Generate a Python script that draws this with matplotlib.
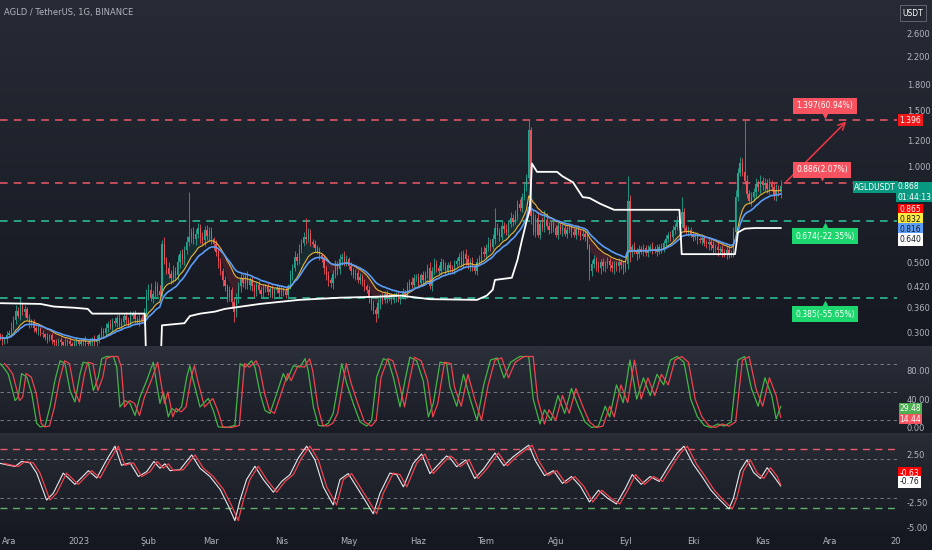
import numpy as np
import pandas as pd
import matplotlib
matplotlib.use("Agg")
import matplotlib.pyplot as plt
from matplotlib.colors import LinearSegmentedColormap
from matplotlib.ticker import FuncFormatter, NullLocator, NullFormatter

plt.rcParams['font.family'] = ['Liberation Sans Narrow', 'DejaVu Sans']

# ---------- data (day 0 = 1 Ara 2022, one candle per day) ----------
FIRST_DAY = -4
FIRST_OPEN = 0.295

closes = [
    0.290, 0.283, 0.288, 0.295,
    0.300, 0.312, 0.330, 0.352, 0.340, 0.365, 0.348, 0.356, 0.335, 0.320,
    0.325, 0.312, 0.305, 0.310, 0.300, 0.298, 0.292, 0.288, 0.295, 0.285,
    0.282, 0.279, 0.286, 0.281, 0.276, 0.280, 0.284, 0.278, 0.274, 0.279,
    0.283, 0.277, 0.281, 0.286, 0.280, 0.278, 0.284, 0.289, 0.282, 0.287,
    0.295, 0.305, 0.300, 0.312, 0.320, 0.314, 0.328, 0.322, 0.335, 0.318,
    0.325, 0.340, 0.330, 0.322, 0.338, 0.345, 0.332, 0.326, 0.335, 0.328,
    0.345, 0.392, 0.410, 0.385, 0.398, 0.420, 0.405, 0.395, 0.570, 0.505,
    0.480, 0.460, 0.445, 0.470, 0.455, 0.500, 0.530, 0.510, 0.545, 0.580,
    0.600, 0.620, 0.590, 0.615, 0.640, 0.600, 0.585, 0.630, 0.605, 0.625,
    0.590, 0.570, 0.540, 0.500, 0.470, 0.440, 0.420, 0.390, 0.410, 0.375,
    0.350, 0.385, 0.420, 0.445, 0.430, 0.455, 0.425, 0.440, 0.420, 0.405,
    0.425, 0.410, 0.398, 0.415, 0.420, 0.402, 0.412, 0.395, 0.408, 0.415,
    0.400, 0.410, 0.405, 0.395, 0.420, 0.455, 0.480, 0.520, 0.505, 0.550,
    0.575, 0.600, 0.590, 0.615, 0.580, 0.570, 0.555, 0.540, 0.525, 0.510,
    0.480, 0.455, 0.440, 0.430, 0.460, 0.490, 0.475, 0.510, 0.520, 0.500,
    0.510, 0.485, 0.470, 0.455, 0.462, 0.440, 0.450, 0.430, 0.420, 0.410,
    0.385, 0.370, 0.355, 0.345, 0.372, 0.390, 0.380, 0.398, 0.385, 0.392,
    0.380, 0.388, 0.395, 0.382, 0.390, 0.402, 0.395, 0.420, 0.435, 0.425,
    0.445, 0.450, 0.430, 0.455, 0.440, 0.460, 0.480, 0.420, 0.470, 0.495,
    0.480, 0.470, 0.500, 0.485, 0.470, 0.490, 0.480, 0.475, 0.495, 0.505,
    0.520, 0.495, 0.530, 0.510, 0.490, 0.505, 0.485, 0.470, 0.500, 0.515,
    0.540, 0.530, 0.555, 0.575, 0.560, 0.590, 0.640, 0.620, 0.600, 0.650,
    0.635, 0.620, 0.660, 0.690, 0.670, 0.700, 0.760, 0.740, 0.800, 0.860,
    0.920, 1.300, 0.700, 0.620, 0.690, 0.610, 0.660, 0.640, 0.680, 0.650,
    0.630, 0.660, 0.640, 0.610, 0.650, 0.625, 0.640, 0.615, 0.630, 0.645,
    0.620, 0.610, 0.635, 0.620, 0.605, 0.615, 0.600, 0.560, 0.470, 0.495,
    0.510, 0.490, 0.480, 0.500, 0.485, 0.495, 0.505, 0.490, 0.480, 0.495,
    0.485, 0.500, 0.490, 0.480, 0.495, 0.780, 0.540, 0.560, 0.545, 0.530,
    0.550, 0.540, 0.555, 0.535, 0.548, 0.560, 0.545, 0.552, 0.540, 0.558,
    0.550, 0.575, 0.590, 0.610, 0.600, 0.630, 0.645, 0.670, 0.660, 0.720,
    0.640, 0.625, 0.630, 0.610, 0.600, 0.605, 0.590, 0.585, 0.595, 0.575,
    0.570, 0.580, 0.565, 0.555, 0.560, 0.545, 0.550, 0.540, 0.535, 0.545,
    0.530, 0.535, 0.620, 0.800, 0.950, 1.020, 0.960, 0.900, 0.820, 0.780,
    0.800, 0.830, 0.880, 0.860, 0.900, 0.870, 0.885, 0.850, 0.880, 0.860,
    0.810, 0.845, 0.830, 0.868,
]

# wick length per candle, percent of the body edge (one digit per day)
upper_wick = "".join([
    "2313",
    "2434352323", "2213121312", "1212131212", "2121312123", "2323242323",
    "3232423232", "4545343535", "3434353434", "5343434343", "3232323232",
    "3434323232", "2323232323", "2323243434", "3434323232", "3232343434",
    "3232323232", "3232323232", "2323232323", "3232323434", "3232323232",
    "3434323232", "3434343434", "3434343434", "3434343535", "3232323232",
    "2323232323", "3232323232", "2323234232", "3232323232", "3232343434",
    "3232323232", "2323232323", "3245454343", "4343434343",
    "3434",
])
lower_wick = "".join([
    "2323",
    "2323232323", "2323232323", "3434343434", "3434343434", "3232323232",
    "3232323232", "3232323232", "4343434343", "3434343434", "3434343434",
    "5434343434", "3232323232", "3232323232", "3232323232", "4343434343",
    "3232323232", "3435343232", "3232323232", "3232323232", "3232323232",
    "3234343232", "3232323232", "3232323232", "3232323232", "3232323232",
    "3232323254", "3434343434", "3434343434", "3232323232", "3232323232",
    "3232323232", "3434343434", "3232323232", "4343434343",
    "3434",
])
spike_high = {5: 0.385, 80: 0.83, 132: 0.69, 216: 0.74, 231: 1.40, 232: 1.33,
              238: 0.73, 275: 0.93, 299: 0.80, 327: 1.396}
spike_low = {68: 0.39, 100: 0.325, 163: 0.325, 232: 0.66, 258: 0.44, 276: 0.50}

# white step line on the price pane
white_days = [-4, 14, 20, 29, 35, 37, 60.4, 61.3, 67, 68, 78, 80.4, 85, 91.5, 96,
              111.5, 129, 147, 165, 174, 187, 208, 212.4, 215, 216, 223.5, 226,
              228, 230, 231.5, 232.4, 234.7, 243.6, 246, 250.7, 255, 258, 262.7,
              267, 269, 298, 299, 322.7, 324, 327, 331.5, 343]
white_vals = [0.372, 0.370, 0.363, 0.360, 0.357, 0.345, 0.345, 0.20, 0.20, 0.317,
              0.322, 0.339, 0.345, 0.350, 0.357, 0.370, 0.381, 0.387, 0.390, 0.393,
              0.383, 0.381, 0.393, 0.41, 0.44, 0.447, 0.508, 0.587, 0.67, 0.73,
              1.02, 0.96, 0.96, 0.93, 0.89, 0.80, 0.795, 0.763, 0.74, 0.73, 0.73,
              0.53, 0.53, 0.62, 0.637, 0.64, 0.64]

# stochastic %K
stoch_days = [-4, -2.5, -0.3, 2.7, 4.1, 5.6, 7.9, 10.1, 12.3, 13.8,
              16, 18.2, 20.4, 22.7, 24.9, 27.1, 29.3, 31.6, 33, 35.3,
              37.5, 39.7, 41.2, 43.4, 46.4, 47.9, 49.3, 51.6, 53.8, 56,
              58.2, 61.2, 64.1, 65.6, 67.1, 68.6, 70.8, 72.3, 74.5, 76.7,
              79, 80.4, 81.9, 84.9, 87.1, 88.6, 90.8, 93, 96.7, 100.4,
              102.7, 104.9, 107.8, 109.3, 111.6, 113.8, 116, 119, 121.9, 123.4,
              126.4, 129.3, 131.6, 133, 135.3, 137.5, 139.7, 141.9, 144.1, 147.9,
              150.1, 153, 156, 159, 161.2, 163.4, 166.4, 168.6, 170.8, 173.8,
              176, 178.2, 181.2, 184.1, 186.4, 188.6, 191.6, 194.5, 196, 199,
              202, 205, 208, 211, 214, 217, 220, 223, 227, 231,
              233, 236, 238, 241, 244, 247, 250, 253, 256, 259,
              262, 265, 267, 270, 273, 276, 279, 282, 285, 288,
              291, 294, 297, 300, 303, 306, 309, 312, 315, 318,
              321, 324, 327, 330, 333, 336, 339, 341, 343]
stoch_k = [90, 85, 75, 38, 43, 76, 71, 48, 6, 1,
           2, 29, 66, 94, 90, 52, 36, 76, 92, 90,
           52, 71, 97, 100, 100, 85, 29, 38, 34, 17,
           43, 66, 92, 62, 34, 50, 15, 27, 22, 29,
           71, 87, 66, 29, 36, 41, 24, 1, 0, 3,
           90, 85, 94, 85, 48, 24, 20, 48, 76, 66,
           87, 85, 97, 80, 29, 3, 2, 6, 20, 90,
           62, 34, 8, 2, 10, 71, 97, 94, 71, 29,
           66, 99, 94, 66, 15, 34, 92, 90, 57, 30,
           75, 40, 10, 60, 95, 98, 70, 92, 100, 100,
           40, 5, 25, 10, 45, 20, 55, 30, 8, 0,
           2, 30, 15, 60, 35, 95, 40, 70, 45, 75,
           60, 95, 100, 92, 40, 15, 3, 0, 5, 2,
           8, 95, 100, 55, 30, 70, 45, 12, 29.5]
stoch_d_last = 14.44

# lower oscillator
osc_days = [-4, -1, 2.7, 5.6, 9.3, 12.3, 16.7, 19.7, 24.1, 29.3,
            35.3, 39, 43.4, 47.1, 50, 53.8, 57.5, 61.2, 64.4, 67.1,
            69.3, 71.6, 76, 81.2, 84.9, 89.3, 93.8, 97.5, 100.4, 102.7,
            105.6, 109.3, 113, 117.5, 121.2, 124.9, 128.6, 132.3, 136, 139.7,
            144.1, 147.1, 150.8, 154.5, 158.2, 161.9, 164.9, 169.3, 172.3, 175.3,
            179.7, 183.4, 187.1, 190.1, 194.5, 196, 199, 203, 207, 211,
            216, 220, 224, 228, 231, 234, 238, 242, 246, 250,
            254, 258, 262, 266, 270, 274, 277, 281, 285, 289,
            293, 297, 300, 304, 308, 312, 316, 320, 322, 325,
            328, 331, 334, 337, 340, 343]
osc_vals = [1.55, 1.4, 1.23, 1.74, 1.6, 0.55, -2.2, -1.5, 0.55, -0.6,
            0.8, 0.05, 1.9, 3.3, 1.35, 1.6, 0.2, 0.7, 1.74, 1.05,
            1.5, 0.8, 0.9, 2.4, 1.05, 0.2, -1.1, -2.8, -4.3, -2.2,
            -0.1, 1.25, -0.1, -1.4, -0.3, 0.4, 2.1, 3.3, 1.9, -0.85,
            -2.7, -0.1, 0.5, -0.85, -2.2, -3.6, -1.5, 0.55, 0.4, -0.85,
            1.55, 2.5, 0.5, 1.25, 2.3, 2.1, 1.2, 1.9, 0.0, 1.0,
            2.6, 1.3, 2.2, 2.9, 3.4, 1.8, 0.3, 0.8, -0.5, 0.2,
            -0.8, -2.4, -1.2, -2.0, -2.6, -1.0, 0.4, -0.6, 0.2, -0.3,
            1.2, 2.6, 3.3, 1.5, 0.2, -1.2, -2.2, -3.1, -2.0, 0.8,
            1.9, 0.6, 0.0, 1.1, 0.2, -0.76]
osc_signal_last = -0.63

# horizontal levels + their labels
red_levels = [1.396, 0.886]
green_levels = [0.674, 0.385]
level_labels = ["1.397(60.94%)", "0.886(2.07%)", "0.674(-22.35%)", "0.385(-55.65%)"]

month_days = [0, 31, 62, 90, 121, 151, 182, 212, 243, 274, 304, 335, 365, 394]
month_names = ["Ara", "2023", "Şub", "Mar", "Nis", "May", "Haz", "Tem", "Ağu",
               "Eyl", "Eki", "Kas", "Ara", "20"]
price_ticks = [0.300, 0.360, 0.420, 0.500, 1.000, 1.200, 1.500, 1.800, 2.200, 2.600]

last_price = "0.868"
countdown = "01:44:13"
ma_labels = ["0.865", "0.832", "0.816", "0.640"]
stoch_labels = ["29.48", "14.44"]
osc_labels = ["-0.63", "-0.76"]

# ---------- derived series ----------
c = np.array(closes)
assert len(c) == len(upper_wick) == len(lower_wick) == 348
days = np.arange(FIRST_DAY, FIRST_DAY + len(c))
o = np.r_[FIRST_OPEN, c[:-1]]
hi = np.maximum(o, c) * (1 + np.array([int(ch) for ch in upper_wick]) / 100)
lo = np.minimum(o, c) * (1 - np.array([int(ch) for ch in lower_wick]) / 100)
for d, v in spike_high.items():
    hi[d - FIRST_DAY] = v
for d, v in spike_low.items():
    lo[d - FIRST_DAY] = v

cs = pd.Series(c)
ema_fast = cs.ewm(span=5, adjust=False).mean().values
ema_mid = cs.ewm(span=14, adjust=False).mean().values
ema_slow = cs.ewm(span=21, adjust=False).mean().values

# signal lines lag the fast lines
sd_days = [d + 2 for d in stoch_days if d + 2 < 343] + [343]
sd_vals = [v for d, v in zip(stoch_days, stoch_k) if d + 2 < 343] + [stoch_d_last]
os_days = [d + 1.5 for d in osc_days if d + 1.5 < 343] + [343]
os_vals = [v for d, v in zip(osc_days, osc_vals) if d + 1.5 < 343] + [osc_signal_last]

# ---------- styling ----------
TXT = '#b2b5be'
UP, DOWN = '#22a68f', '#ef4f5a'
RED_DASH, GREEN_DASH = '#ef5a6a', '#2cc79b'
XLIM = (-4, 394.7)
W, H = 932, 550
AX_W = 897 / W

fig = plt.figure(figsize=(9.32, 5.5), dpi=100)
fig.patch.set_facecolor('#2c303b')


def pane_bg(rect, top, bottom):
    bg = fig.add_axes(rect, zorder=0)
    cmap = LinearSegmentedColormap.from_list('g', [bottom, top])
    bg.imshow(np.linspace(0, 1, 128).reshape(-1, 1), cmap=cmap, aspect='auto',
              origin='lower', extent=[0, 1, 0, 1])
    bg.axis('off')


def rect_px(y0, y1, full=False):
    return [0, 1 - y1 / H, 1 if full else AX_W, (y1 - y0) / H]


pane_bg(rect_px(0, 346, True), '#272b35', '#151821')
pane_bg(rect_px(348, 433, True), '#2b2f39', '#191c25')
pane_bg(rect_px(435, 531, True), '#282c35', '#171a23')
strip = fig.add_axes(rect_px(531, 550, True), zorder=0)
strip.axis('off')
strip.add_patch(plt.Rectangle((0, 0), 1, 1, color='#151821', transform=strip.transAxes))

ax = fig.add_axes(rect_px(0, 346), zorder=1)
ax2 = fig.add_axes(rect_px(348, 433), zorder=1)
ax3 = fig.add_axes(rect_px(435, 531), zorder=1)

for a in (ax, ax2, ax3):
    a.set_facecolor('none')
    for s in a.spines.values():
        s.set_visible(False)
    a.set_xlim(*XLIM)
    a.yaxis.tick_right()
    a.tick_params(axis='y', length=0, pad=7, labelsize=6, colors=TXT)
    a.tick_params(axis='x', length=0, labelsize=6, colors=TXT)

# ---------- price pane ----------
ax.set_yscale('log')
ax.set_ylim(0.2731, 3.319)
ax.set_yticks(price_ticks)
ax.yaxis.set_major_formatter(FuncFormatter(lambda v, _: f"{v:.3f}"))
ax.yaxis.set_minor_locator(NullLocator())
ax.yaxis.set_minor_formatter(NullFormatter())
ax.set_xticks([])

for lv in red_levels:
    ax.axhline(lv, color=RED_DASH, lw=1.1, ls=(0, (5, 4)), zorder=2)
for lv in green_levels:
    ax.axhline(lv, color=GREEN_DASH, lw=1.1, ls=(0, (5, 4)), zorder=2)

ax.fill_between(days, ema_fast, ema_mid, where=ema_fast >= ema_mid,
                color='#089981', alpha=0.14, lw=0, interpolate=True, zorder=2)
ax.fill_between(days, ema_fast, ema_mid, where=ema_fast < ema_mid,
                color='#f23645', alpha=0.18, lw=0, interpolate=True, zorder=2)

col = np.where(c >= o, UP, DOWN)
ax.vlines(days, lo, hi, colors=col, lw=0.6, zorder=3)
ax.bar(days, np.abs(c - o), bottom=np.minimum(o, c), width=0.62, color=col,
       lw=0, zorder=3)

ax.plot(days, ema_mid, color='#e8b73a', lw=0.8, zorder=4)
ax.plot(days, ema_slow, color='#5b9cf6', lw=1.2, zorder=4)
ax.plot(white_days, white_vals, color='white', lw=1.3, zorder=5)

# drawn projection arrow
ax.annotate('', xy=(373, 1.40), xytext=(344.5, 0.88),
            arrowprops=dict(arrowstyle='->,head_length=0.5,head_width=0.25',
                            color='#f23645', lw=1.1), zorder=6)

lab_days = [362.7, 361.3, 362.7, 362.7]
lab_prices = [1.549, 0.973, 0.604, 0.343]
tip_prices = [1.44, 0.92, 0.652, 0.372]
lab_cols = ['#f7525f', '#f7525f', '#1ed66e', '#1ed66e']
lab_marks = ['v', 'v', '^', '^']
for txt, dx, py, ty, cc, mk in zip(level_labels, lab_days, lab_prices, tip_prices,
                                    lab_cols, lab_marks):
    ax.plot(dx, ty, marker=mk, ms=4.5, color=cc, mec='none', zorder=6)
    ax.text(dx, py, txt, ha='center', va='center', fontsize=5.5, color='white',
            zorder=7, bbox=dict(boxstyle='square,pad=0.45', fc=cc, ec='none'))

ax.text(4 / 897, 1 - 12 / 346, "AGLD / TetherUS, 1G, BINANCE", transform=ax.transAxes,
        ha='left', va='center', fontsize=6, color=TXT)

# right scale value boxes


def side_box(a, yfrac, txt, fc, tc='white', x=1.003, ha='left', fs=5.5, pad=0.2):
    a.text(x, yfrac, txt, transform=a.transAxes, ha=ha, va='center', fontsize=fs,
           color=tc, zorder=8, clip_on=False, linespacing=1.15,
           bbox=dict(boxstyle=f'square,pad={pad}', fc=fc, ec='none'))


side_box(ax, 1 - 120 / 346, "1.396", '#f01818')
side_box(ax, 1 - 192 / 346, f"{last_price}\n{countdown}", '#089981', x=1.0, pad=0.1)
side_box(ax, 1 - 187 / 346, "AGLDUSDT", '#089981', x=0.999, ha='right')
for txt, ypx, fc, tc in zip(ma_labels, [210, 219.5, 229.5, 239.5],
                            ['#ff0000', '#ffeb3b', '#5b9cf6', '#ffffff'],
                            ['white', '#131722', '#131722', '#131722']):
    side_box(ax, 1 - ypx / 346, txt, fc, tc)

fig.text(913 / W, 1 - 13 / H, "USDT", ha='center', va='center', fontsize=5.5,
         color='white', zorder=9,
         bbox=dict(boxstyle='square,pad=0.4', fc='none', ec='#6a6d78', lw=0.6))

# ---------- stochastic pane ----------
ax2.set_ylim(-7.7, 112)
ax2.set_yticks([80, 40, 0])
ax2.yaxis.set_major_formatter(FuncFormatter(lambda v, _: f"{v:.2f}"))
ax2.set_xticks([])
for lv in [90, 50, 10]:
    ax2.axhline(lv, color='#868993', lw=0.6, ls=(0, (4, 4)), zorder=1)
ax2.plot(stoch_days, stoch_k, color='#43b548', lw=0.9, zorder=3)
ax2.plot(sd_days, sd_vals, color='#f0424e', lw=0.9, zorder=3)
side_box(ax2, (433 - 408.5) / 85, stoch_labels[0], '#4caf50', pad=0.12)
side_box(ax2, (433 - 419) / 85, stoch_labels[1], '#f7525f', pad=0.12)

# ---------- lower oscillator pane ----------
ax3.set_ylim(-5.36, 4.44)
ax3.set_yticks([2.5, -2.5, -5.0])
ax3.yaxis.set_major_formatter(FuncFormatter(lambda v, _: f"{v:.2f}"))
ax3.axhline(3, color=RED_DASH, lw=1.0, ls=(0, (5, 4)), zorder=1)
ax3.axhline(-3, color='#5fae6a', lw=1.0, ls=(0, (5, 4)), zorder=1)
for lv in [2, -2]:
    ax3.axhline(lv, color='#868993', lw=0.6, ls=(0, (4, 4)), zorder=1)
ax3.plot(osc_days, osc_vals, color='#e8e8ec', lw=0.8, zorder=3)
ax3.plot(os_days, os_vals, color='#f0424e', lw=0.9, zorder=3)
side_box(ax3, (531 - 473) / 96, osc_labels[0], '#ff0000')
side_box(ax3, (531 - 482) / 96, osc_labels[1], '#ffffff', '#131722')

ax3.set_xticks(month_days)
ax3.set_xticklabels(month_names)
ax3.tick_params(axis='x', pad=4)

fig.savefig("out.png", dpi=100, facecolor=fig.get_facecolor())
